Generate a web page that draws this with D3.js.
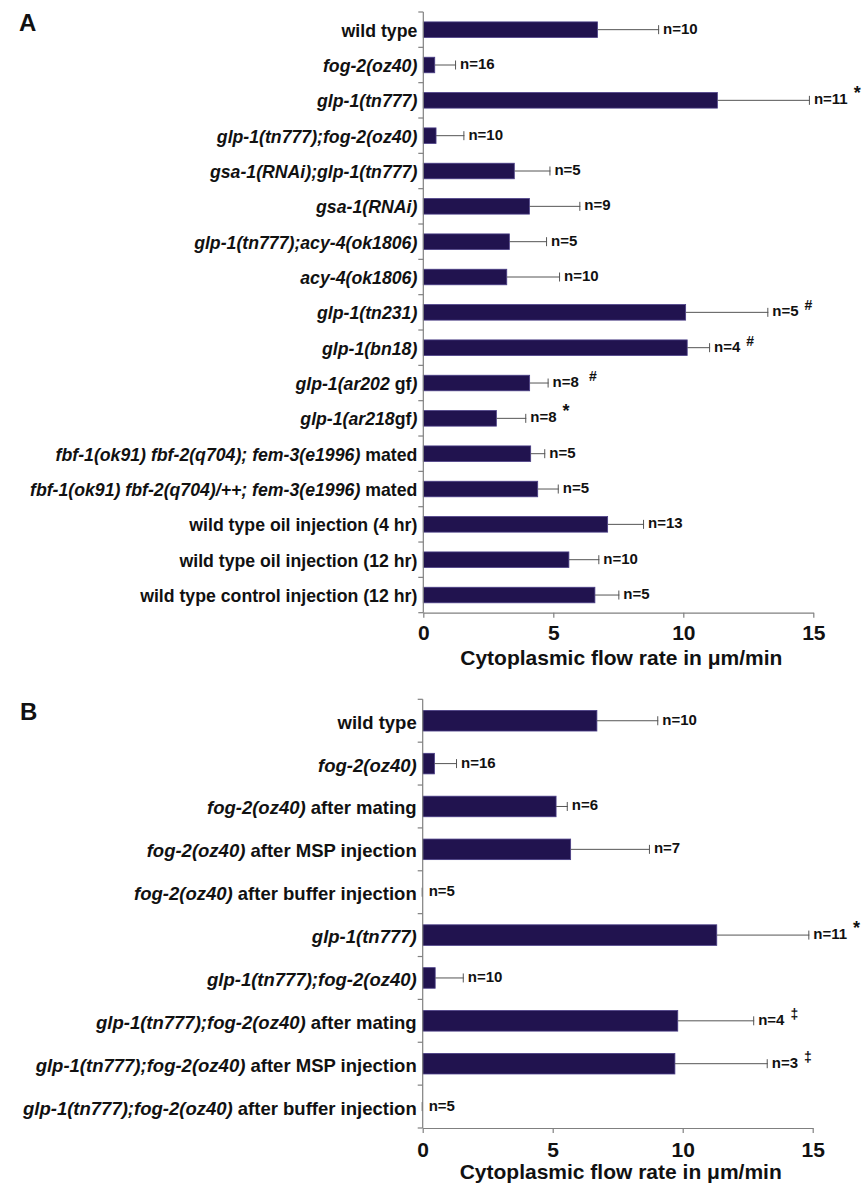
<!DOCTYPE html>
<html>
<head>
<meta charset="utf-8">
<script src="https://cdn.jsdelivr.net/npm/d3@7"></script>
<style>
  html, body { margin: 0; padding: 0; background: #fff; }
  svg { display: block; font-family: "Liberation Sans", Arial, Helvetica, sans-serif; }
</style>
</head>
<body>
<svg id="chart" width="864" height="1186"></svg>
<script>
// ---------- DATA ----------
// Underscores delimit italic segments.
const categoriesA = [
  "wild type",
  "_fog-2(oz40)_",
  "_glp-1(tn777)_",
  "_glp-1(tn777);fog-2(oz40)_",
  "_gsa-1(RNAi);glp-1(tn777)_",
  "_gsa-1(RNAi)_",
  "_glp-1(tn777);acy-4(ok1806)_",
  "_acy-4(ok1806)_",
  "_glp-1(tn231)_",
  "_glp-1(bn18)_",
  "_glp-1(ar202_ gf_)_",
  "_glp-1(ar218_gf_)_",
  "_fbf-1(ok91) fbf-2(q704); fem-3(e1996)_ mated",
  "_fbf-1(ok91) fbf-2(q704)/++; fem-3(e1996)_ mated",
  "wild type oil injection (4 hr)",
  "wild type oil injection (12 hr)",
  "wild type control injection (12 hr)"
];
const valuesA = [6.7, 0.44, 11.31, 0.49, 3.5, 4.08, 3.31, 3.21, 10.09, 10.15, 4.09, 2.81, 4.13, 4.4, 7.09, 5.6, 6.6];
const errorsA = [2.37, 0.82, 3.56, 1.09, 1.39, 1.96, 1.45, 2.05, 3.18, 0.88, 0.73, 1.15, 0.56, 0.81, 1.4, 1.17, 0.94];
const nA = [10, 16, 11, 10, 5, 9, 5, 10, 5, 4, 8, 8, 5, 5, 13, 10, 5];
const marksA = ["", "", "*", "", "", "", "", "", "#", "#", "#", "*", "", "", "", "", ""];

const categoriesB = [
  "wild type",
  "_fog-2(oz40)_",
  "_fog-2(oz40)_ after mating",
  "_fog-2(oz40)_ after MSP injection",
  "_fog-2(oz40)_ after buffer injection",
  "_glp-1(tn777)_",
  "_glp-1(tn777);fog-2(oz40)_",
  "_glp-1(tn777);fog-2(oz40)_ after mating",
  "_glp-1(tn777);fog-2(oz40)_ after MSP injection",
  "_glp-1(tn777);fog-2(oz40)_ after buffer injection"
];
const valuesB = [6.7, 0.45, 5.13, 5.69, 0, 11.31, 0.48, 9.81, 9.7, 0];
const errorsB = [2.36, 0.87, 0.45, 3.05, 0, 3.56, 1.1, 2.94, 3.57, 0];
const nB = [10, 16, 6, 7, 5, 11, 10, 4, 3, 5];
const marksB = ["", "", "", "", "", "*", "", "\u2021", "\u2021", ""];

const xTicks = [0, 5, 10, 15];
const xTitle = "Cytoplasmic flow rate in \u03bcm/min";

// ---------- DRAW ----------
const svg = d3.select("#chart");
const BAR = "#21134f", BAR_EDGE = "#4a3e86", AXIS = "#808080", ERR = "#555", TXT = "#111";

function panel(cfg) {
  const { letter, letterPos, cats, vals, errs, ns, marks, top, bottom, left, right,
          barFrac, labelSize, tickPad, titleY } = cfg;
  const g = svg.append("g");
  const x = d3.scaleLinear().domain([0, 15]).range([left, right]);
  const pIn = 1 - barFrac;
  const y = d3.scaleBand().domain(d3.range(cats.length)).range([top, bottom])
    .paddingInner(pIn).paddingOuter(pIn / 2);
  const step = y.step();
  const cy = i => y(i) + y.bandwidth() / 2;

  // panel letter
  g.append("text").attr("x", letterPos[0]).attr("y", letterPos[1])
    .attr("font-size", 24).attr("font-weight", "bold").attr("fill", TXT).text(letter);

  // bars
  g.selectAll("rect.bar").data(vals).join("rect")
    .attr("x", x(0)).attr("y", (d, i) => y(i))
    .attr("width", d => Math.max(0, x(d) - x(0))).attr("height", y.bandwidth())
    .attr("fill", BAR).attr("stroke", d => d > 0 ? BAR_EDGE : "none").attr("stroke-width", 0.8);

  // error bars
  const eb = g.selectAll("g.err").data(vals).join("g");
  eb.append("line")
    .attr("x1", d => x(d)).attr("x2", (d, i) => x(d + errs[i]))
    .attr("y1", (d, i) => cy(i)).attr("y2", (d, i) => cy(i))
    .attr("stroke", ERR).attr("stroke-width", 1);
  eb.append("line")
    .attr("x1", (d, i) => x(d + errs[i]) - 0.5).attr("x2", (d, i) => x(d + errs[i]) - 0.5)
    .attr("y1", (d, i) => cy(i) - 4.5).attr("y2", (d, i) => cy(i) + 4.5)
    .attr("stroke", ERR).attr("stroke-width", 1);

  // n labels + marks
  const nt = g.selectAll("text.n").data(vals).join("text")
    .attr("x", (d, i) => x(d + errs[i]) + (errs[i] > 0 ? 4 : 6))
    .attr("y", (d, i) => cy(i) - 2)
    .attr("dominant-baseline", "central")
    .attr("font-size", 15).attr("font-weight", "bold").attr("fill", TXT)
    .style("white-space", "pre");
  nt.append("tspan").text((d, i) => "n=" + ns[i]);
  nt.each(function (d, i) {
    if (!marks[i]) return;
    d3.select(this).append("tspan")
      .attr("dx", marks[i] === "#" && ns[i] === 8 ? 10 : 6)
      .attr("dy", -5).attr("font-size", marks[i] === "*" ? 18 : 14)
      .text(marks[i]);
  });

  // category labels with italic segments
  const lab = g.selectAll("text.cat").data(cats).join("text")
    .attr("x", left - 6).attr("y", (d, i) => cy(i) + 1)
    .attr("text-anchor", "end").attr("dominant-baseline", "central")
    .attr("font-size", labelSize).attr("font-weight", "bold").attr("fill", TXT)
    .style("white-space", "pre");
  lab.each(function (d) {
    const parts = d.split("_");
    const t = d3.select(this);
    parts.forEach((p, k) => {
      if (!p) return;
      t.append("tspan").attr("font-style", k % 2 === 1 ? "italic" : "normal").text(p);
    });
  });

  // y axis: vertical line with boundary ticks
  g.append("line").attr("x1", left).attr("x2", left).attr("y1", top).attr("y2", bottom)
    .attr("stroke", AXIS).attr("stroke-width", 1.2);
  g.selectAll("line.yt").data(d3.range(cats.length + 1)).join("line")
    .attr("x1", left - 5).attr("x2", left)
    .attr("y1", i => top + i * step).attr("y2", i => top + i * step)
    .attr("stroke", AXIS).attr("stroke-width", 1.2);

  // x axis
  const xa = g.append("g").attr("transform", `translate(0,${bottom})`)
    .call(d3.axisBottom(x).tickValues(xTicks).tickSize(5).tickPadding(tickPad).tickSizeOuter(0));
  xa.select(".domain").attr("stroke", AXIS).attr("stroke-width", 1.2);
  xa.selectAll(".tick line").attr("stroke", AXIS).attr("stroke-width", 1.2);
  xa.selectAll(".tick text").attr("font-size", 21).attr("font-weight", "bold")
    .attr("fill", TXT).attr("font-family", "'Liberation Sans', Arial, sans-serif");

  g.append("text").attr("x", (x(0) + x(15)) / 2 + 3).attr("y", titleY)
    .attr("text-anchor", "middle").attr("font-size", 21).attr("font-weight", "bold")
    .attr("fill", TXT).text(xTitle);
}

panel({
  letter: "A", letterPos: [19, 31],
  cats: categoriesA, vals: valuesA, errs: errorsA, ns: nA, marks: marksA,
  top: 12, bottom: 612.7, left: 423.3, right: 813.3,
  barFrac: 0.44, labelSize: 17.7, tickPad: 7, titleY: 665
});
panel({
  letter: "B", letterPos: [20, 720],
  cats: categoriesB, vals: valuesB, errs: errorsB, ns: nB, marks: marksB,
  top: 699.3, bottom: 1128, left: 422.7, right: 812.7,
  barFrac: 0.48, labelSize: 18.5, tickPad: 9, titleY: 1178.5
});
</script>
</body>
</html>
